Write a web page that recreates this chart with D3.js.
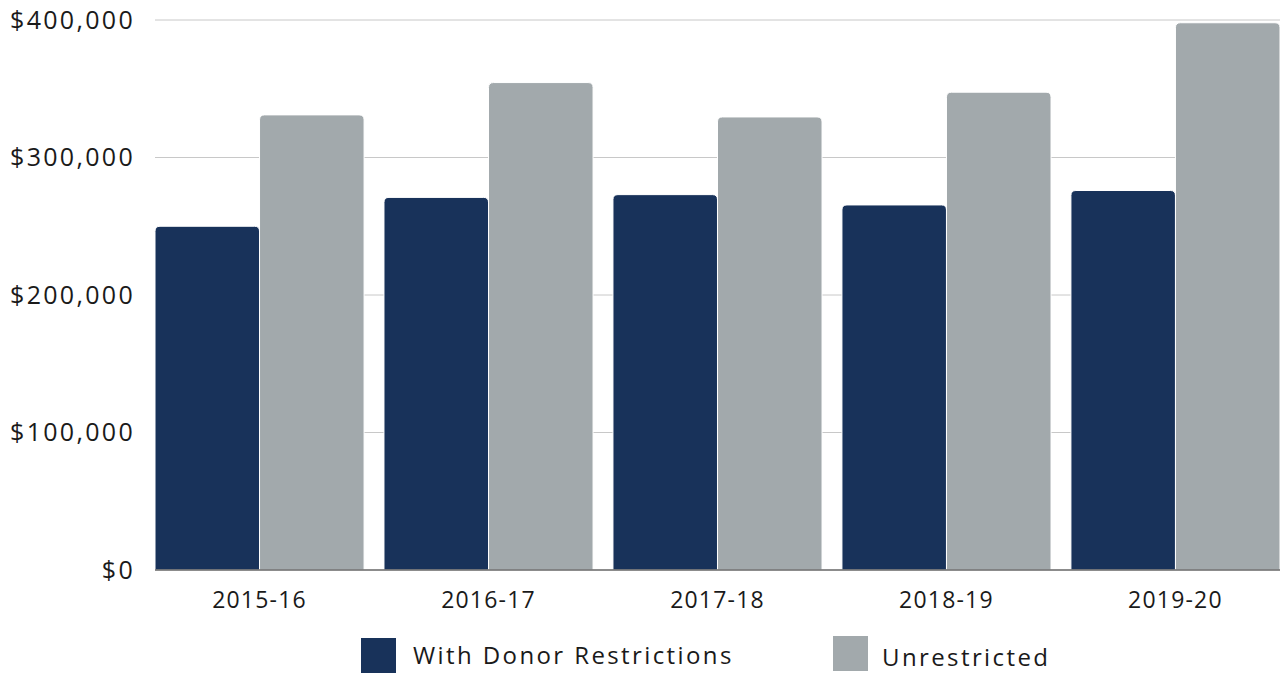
<!DOCTYPE html>
<html>
<head>
<meta charset="utf-8">
<script src="https://cdn.jsdelivr.net/npm/d3@7"></script>
<style>
  body { margin: 0; background: #fff; }
  text { font-family: "Open Sans", sans-serif; fill: #1a1a1a; }
</style>
</head>
<body>
<svg id="chart" width="1282" height="673"></svg>
<script>
// Data
const years = ["2015-16", "2016-17", "2017-18", "2018-19", "2019-20"];
const seriesNames = ["With Donor Restrictions", "Unrestricted"];
const withDonor = [250000, 271000, 273000, 265500, 276000];
const unrestricted = [331000, 354500, 329500, 347500, 398000];
const yTicks = [0, 100000, 200000, 300000, 400000];

const colors = ["#18325a", "#a2a9ac"];

const svg = d3.select("#chart");
const margin = {top: 20, right: 2, bottom: 103, left: 155};
const width = 1282 - margin.left - margin.right;
const height = 673 - margin.top - margin.bottom;

const g = svg.append("g").attr("transform", `translate(${margin.left},${margin.top})`);

const x0 = d3.scaleBand().domain(years).range([0, width]).paddingInner(0.087).paddingOuter(0);
const x1 = d3.scaleBand().domain(seriesNames).range([0, x0.bandwidth()]);
const y = d3.scaleLinear().domain([0, 400000]).range([height, 0]);

// Gridlines
g.append("g")
  .selectAll("line")
  .data(yTicks.slice(1))
  .join("line")
  .attr("x1", 0)
  .attr("x2", width)
  .attr("y1", d => y(d))
  .attr("y2", d => y(d))
  .attr("stroke", "#c8c8c8")
  .attr("stroke-width", 1);

// Y axis labels
const fmt = d3.format("$,");
g.append("g")
  .selectAll("text")
  .data(yTicks)
  .join("text")
  .attr("x", -20)
  .attr("y", d => y(d))
  .attr("dy", "0.35em")
  .attr("text-anchor", "end")
  .attr("font-size", 25)
  .attr("letter-spacing", 2.3)
  .text(d => fmt(d));

// Bars with rounded tops
const r = 5;
function topRounded(xp, yp, w, h) {
  const rr = Math.min(r, h);
  return `M${xp},${yp + h}V${yp + rr}Q${xp},${yp} ${xp + rr},${yp}H${xp + w - rr}Q${xp + w},${yp} ${xp + w},${yp + rr}V${yp + h}Z`;
}

const rows = years.map((yr, i) => ({year: yr, values: [withDonor[i], unrestricted[i]]}));

const groups = g.append("g")
  .selectAll("g")
  .data(rows)
  .join("g")
  .attr("transform", d => `translate(${x0(d.year)},0)`);

groups.selectAll("path")
  .data(d => d.values.map((v, k) => ({key: seriesNames[k], value: v, k})))
  .join("path")
  .attr("d", d => topRounded(x1(d.key), y(d.value), x1.bandwidth(), height - y(d.value)))
  .attr("fill", d => colors[d.k])
  .attr("stroke", "#fff")
  .attr("stroke-width", 1);

// Baseline
g.append("line")
  .attr("x1", 0).attr("x2", width)
  .attr("y1", height).attr("y2", height)
  .attr("stroke", "#666").attr("stroke-width", 1.5);

// X labels
g.append("g")
  .selectAll("text")
  .data(years)
  .join("text")
  .attr("x", d => x0(d) + x0.bandwidth() / 2)
  .attr("y", height + 38)
  .attr("text-anchor", "middle")
  .attr("font-size", 23)
  .attr("letter-spacing", 1.2)
  .text(d => d);

// Legend
const legendPos = [{sx: 361, sy: 638, tx: 413, ty: 664}, {sx: 833, sy: 636, tx: 882, ty: 666}];
const legend = svg.append("g")
  .selectAll("g")
  .data(seriesNames)
  .join("g");
legend.append("rect")
  .attr("x", (d, i) => legendPos[i].sx)
  .attr("y", (d, i) => legendPos[i].sy)
  .attr("width", 35).attr("height", 35)
  .attr("fill", (d, i) => colors[i]);
legend.append("text")
  .attr("x", (d, i) => legendPos[i].tx)
  .attr("y", (d, i) => legendPos[i].ty)
  .attr("font-size", 24)
  .attr("letter-spacing", 2.4)
  .text(d => d);
</script>
</body>
</html>
